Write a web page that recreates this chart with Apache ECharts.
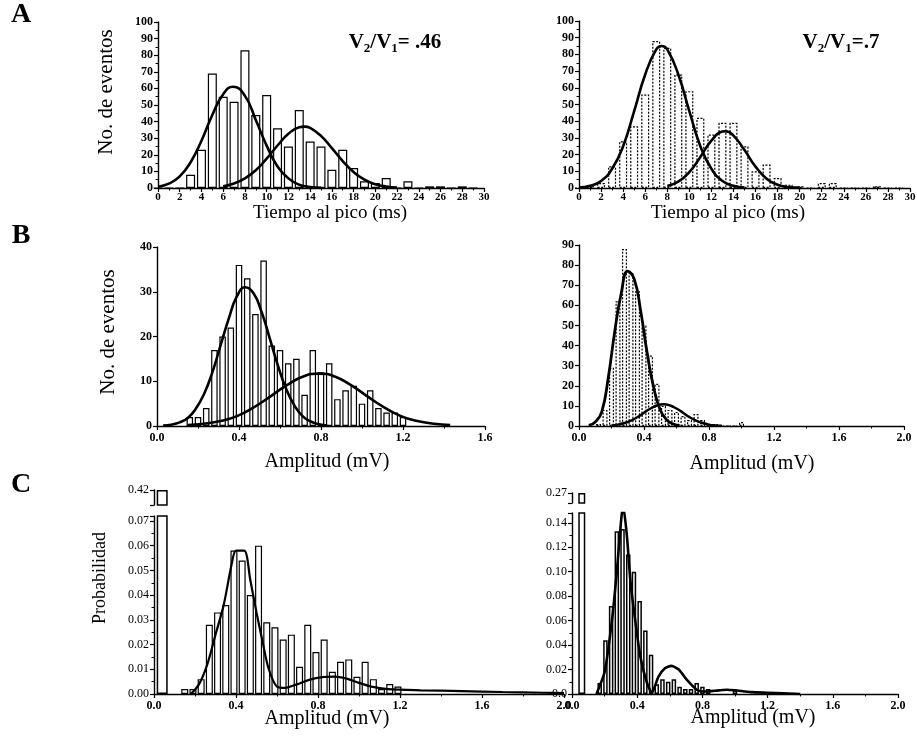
<!DOCTYPE html>
<html>
<head>
<meta charset="utf-8">
<script src="https://cdn.jsdelivr.net/npm/echarts@6/dist/echarts.min.js"></script>
<style>
  html, body { margin: 0; padding: 0; background: #fff; }
  #chart { width: 917px; height: 738px; }
</style>
</head>
<body>
<div id="chart"></div>
<script>
// ---- A: tiempo al pico (ms), bins de 1 ms ----
var timeBins = [0,1,2,3,4,5,6,7,8,9,10,11,12,13,14,15,16,17,18,19,20,21,22,23,24,25,26,27,28,29];
var timeCountsV46 = [0,0,0,8,23,69,55,52,83,44,56,36,25,47,28,25,11,23,12,4,3,6,0,4,0,1,1,0,1,0];
var timeCountsV7 = [0,1,3,13,28,37,56,88,84,68,58,42,32,39,39,25,10,14,6,2,1,0,3,3,0,0,0,1,0,0];

var fitT46aX = [0,1,2,3,4,5,6,6.9,8,9,10,11,12,13,14,15];
var fitT46aY = [0.8,2.6,7,15.5,28.5,44,56.5,61,55.5,41,25.5,13,5.8,2,0.6,0.1];
var fitT46bX = [6,7,8,9,10,11,12,13,13.5,14,15,16,17,18,19,20,21,22];
var fitT46bY = [1.1,2.7,5.8,10.7,17.7,25.6,32.7,36.6,37,36.2,31.4,24,16.2,9.6,5,2.3,0.9,0.3];
var fitT7aX = [0,1,2,3,4,5,6,7,7.5,8,9,10,11,12,13,14,15];
var fitT7aY = [0.3,1.3,4.2,11.5,25,46,68,83,85,83,68,46,25,11.5,4.2,1.3,0.3];
var fitT7bX = [8,9,10,11,12,13,13.3,14,15,16,17,18,19,20];
var fitT7bY = [1.2,3.8,9.5,18.6,28.4,33.8,34,31.4,22.7,12.8,5.6,1.9,0.5,0.1];

// ---- B: amplitud (mV), bins de 0.04 mV ----
var ampBinsV46 = [0.16,0.20,0.24,0.28,0.32,0.36,0.40,0.44,0.48,0.52,0.56,0.60,0.64,0.68,0.72,0.76,0.80,0.84,0.88,0.92,0.96,1.00,1.04,1.08,1.12,1.16,1.20];
var ampCountsV46 = [2,2,4,17,20,22,36,33,25,37,18,17,14,15,7,17,12,14,6,8,9,5,8,4,3,3,2];
var ampBinsV7 = [0.12,0.16,0.20,0.24,0.28,0.32,0.36,0.40,0.44,0.48,0.52,0.56,0.60,0.64,0.68,0.72,0.76,0.80,0.84,0.88,0.92,0.96,1.00];
var ampCountsV7 = [1,8,29,62,88,76,67,50,35,21,10,8,7,5,3,6,3,1,1,0,0,0,2];

var fitA46aX = [0.03,0.07,0.11,0.15,0.19,0.23,0.27,0.31,0.35,0.39,0.43,0.47,0.51,0.55,0.59,0.63,0.67,0.71,0.75,0.79,0.83];
var fitA46aY = [0.1,0.3,0.8,1.8,3.9,7.2,12,18,24,29,31,29.7,25.5,19.6,13.5,8.3,4.6,2.2,1,0.4,0.1];
var fitA46bX = [0.15,0.23,0.31,0.39,0.47,0.55,0.63,0.71,0.79,0.87,0.95,1.03,1.11,1.19,1.27,1.35,1.43];
var fitA46bY = [0.2,0.5,1.1,2.2,4.1,6.5,9,11,11.7,11,9,6.5,4.1,2.2,1.1,0.5,0.2];
var fitA7aX = [0.06,0.10,0.14,0.18,0.22,0.26,0.30,0.34,0.38,0.42,0.46,0.50,0.54,0.58,0.62];
var fitA7aY = [0.3,2,7,24,47,66,77,73,57,36,19,8,3,1,0.2];
var fitA7bX = [0.20,0.24,0.28,0.32,0.36,0.40,0.44,0.48,0.52,0.56,0.60,0.64,0.68,0.72,0.76,0.80,0.84,0.88];
var fitA7bY = [0.3,0.7,1.5,2.7,4.4,6.6,8.7,10.2,10.8,10.2,8.7,6.6,4.4,2.7,1.5,0.7,0.3,0.1];

// ---- C: probabilidad vs amplitud ----
var failBinV46 = [0.04];
var failProbV46 = [0.42];
var probBinsV46 = [0.15,0.19,0.23,0.27,0.31,0.35,0.39,0.43,0.47,0.51,0.55,0.59,0.63,0.67,0.71,0.75,0.79,0.83,0.87,0.91,0.95,0.99,1.03,1.07,1.11,1.15,1.19];
var probV46 = [0.002,0.002,0.006,0.028,0.033,0.036,0.058,0.054,0.040,0.060,0.029,0.027,0.022,0.024,0.011,0.028,0.017,0.022,0.009,0.013,0.014,0.007,0.013,0.006,0.002,0.004,0.003];
var fitP46X = [0.18,0.22,0.26,0.30,0.34,0.38,0.40,0.44,0.47,0.50,0.53,0.56,0.60,0.64,0.70,0.76,0.82,0.88,0.94,1.00,1.06,1.14,1.30,1.50,1.70,1.90,2.00];
var fitP46Y = [0,0.004,0.012,0.024,0.036,0.053,0.058,0.058,0.046,0.033,0.021,0.01,0.003,0.0025,0.004,0.0058,0.0068,0.007,0.0062,0.0045,0.003,0.002,0.0015,0.0012,0.0008,0.0005,0.0004];

var failBinV7 = [0.06];
var failProbV7 = [0.27];
var probBinsV7 = [0.17,0.205,0.24,0.275,0.31,0.345,0.38,0.415,0.45,0.485,0.52,0.555,0.59,0.625,0.66,0.695,0.73,0.765,0.80,0.835,1.00];
var probV7 = [0.009,0.044,0.072,0.133,0.135,0.114,0.10,0.076,0.052,0.032,0.008,0.012,0.01,0.012,0.006,0.004,0.004,0.009,0.006,0.004,0.003];
var fitP7X = [0.15,0.20,0.245,0.275,0.30,0.313,0.337,0.358,0.388,0.42,0.46,0.49,0.53,0.57,0.61,0.655,0.705,0.767,0.81,0.90,0.95,1.0,1.1,1.2,1.4];
var fitP7Y = [0,0.018,0.06,0.1,0.14,0.155,0.129,0.093,0.06,0.03,0.009,0.001,0.014,0.021,0.023,0.02,0.0115,0.0033,0.002,0.003,0.0035,0.003,0.0015,0.001,0];

var serif = "'Liberation Serif', 'DejaVu Serif', serif";

function pairs(xs, ys) {
  return xs.map(function (x, i) { return [x, ys[i]]; });
}
function onStep(v, s) {
  return Math.abs(v / s - Math.round(v / s)) < 1e-6;
}

function valAxis(grid, min, max, interval, opts) {
  opts = opts || {};
  return {
    type: 'value',
    gridIndex: grid,
    min: min,
    max: max,
    interval: interval,
    show: opts.show !== false,
    axisLine: { show: true, onZero: false, lineStyle: { color: '#000', width: 1.4 } },
    axisTick: { show: true, length: 4, lineStyle: { color: '#000', width: 1.2 } },
    minorTick: { show: !!opts.minor, splitNumber: opts.minor || 2, length: 2.5, lineStyle: { color: '#000', width: 1 } },
    splitLine: { show: false },
    minorSplitLine: { show: false },
    axisLabel: {
      show: true,
      color: '#000',
      fontFamily: serif,
      fontSize: opts.fontSize || 12,
      fontWeight: opts.bold === false ? 'normal' : 'bold',
      margin: opts.margin || 5,
      formatter: opts.fmt
    }
  };
}

function bars(xi, yi, xs, ys, width, dashed, bw) {
  return {
    type: 'bar',
    xAxisIndex: xi,
    yAxisIndex: yi,
    barWidth: width,
    data: pairs(xs, ys),
    itemStyle: {
      color: '#fff',
      borderColor: '#000',
      borderWidth: bw || 1.2,
      borderType: dashed ? [2, 1.5] : 'solid'
    },
    z: 2
  };
}

function fit(xi, yi, xs, ys, width, smooth) {
  return {
    type: 'line',
    xAxisIndex: xi,
    yAxisIndex: yi,
    data: pairs(xs, ys),
    showSymbol: false,
    symbol: 'none',
    smooth: smooth,
    lineStyle: { color: '#000', width: width },
    z: 5
  };
}

function label(x, y, text, size, weight, rot) {
  return {
    type: 'text',
    x: x,
    y: y,
    rotation: rot || 0,
    style: {
      text: text,
      fontFamily: serif,
      fontSize: size,
      fontWeight: weight || 'normal',
      fill: '#000',
      align: 'center',
      verticalAlign: 'middle'
    }
  };
}

function ratio(x, y, value) {
  return {
    type: 'text',
    x: x,
    y: y,
    style: {
      text: '{b|V}{s|2}{b|/V}{s|1}{b|=' + value + '}',
      fill: '#000',
      align: 'center',
      verticalAlign: 'middle',
      rich: {
        b: { fontFamily: serif, fontSize: 21, fontWeight: 'bold', lineHeight: 24, verticalAlign: 'middle' },
        s: { fontFamily: serif, fontSize: 13, fontWeight: 'bold', lineHeight: 9, verticalAlign: 'bottom' }
      }
    }
  };
}

var fmt1 = function (v) { return v.toFixed(1); };

var chart = echarts.init(document.getElementById('chart'), null, { renderer: 'canvas' });

var option = {
  backgroundColor: '#fff',
  animation: false,
  grid: [
    { left: 158, top: 22, width: 326, height: 166, outerBoundsMode: 'none' },
    { left: 579, top: 21, width: 331, height: 167, outerBoundsMode: 'none' },
    { left: 157, top: 247, width: 328, height: 179, outerBoundsMode: 'none' },
    { left: 579, top: 245, width: 325, height: 181, outerBoundsMode: 'none' },
    { left: 154, top: 516, width: 410, height: 178, outerBoundsMode: 'none' },
    { left: 572, top: 513, width: 326, height: 181, outerBoundsMode: 'none' },
    // tramos superiores del eje cortado
    { left: 154, top: 490, width: 410, height: 15, outerBoundsMode: 'none' },
    { left: 572, top: 493, width: 326, height: 10, outerBoundsMode: 'none' }
  ],
  xAxis: [
    valAxis(0, 0, 30, 2, { minor: 2, margin: 4, fontSize: 11 }),
    valAxis(1, 0, 30, 2, { minor: 2, margin: 4, fontSize: 11 }),
    valAxis(2, 0, 1.6, 0.4, { minor: 2, margin: 6, fmt: fmt1 }),
    valAxis(3, 0, 2.0, 0.4, { minor: 2, margin: 6, fmt: fmt1 }),
    valAxis(4, 0, 2.0, 0.4, { minor: 2, margin: 6, fmt: fmt1 }),
    valAxis(5, 0, 2.0, 0.4, { minor: 2, margin: 6, fmt: fmt1 }),
    valAxis(6, 0, 2.0, 0.4, { show: false }),
    valAxis(7, 0, 2.0, 0.4, { show: false }),
    valAxis(4, 0, 2.0, 0.4, { show: false }),
    valAxis(5, 0, 2.0, 0.4, { show: false })
  ],
  yAxis: [
    valAxis(0, 0, 100, 10, { minor: 2, fontSize: 12 }),
    valAxis(1, 0, 100, 10, { minor: 2, fontSize: 12 }),
    valAxis(2, 0, 40, 10, {}),
    valAxis(3, 0, 90, 10, {}),
    valAxis(4, 0, 0.072, 0.01, { minor: 2, bold: false,
      fmt: function (v) { return onStep(v, 0.01) ? v.toFixed(2) : ''; } }),
    valAxis(5, 0, 0.148, 0.02, { minor: 2, bold: false,
      fmt: function (v) { return v === 0 ? '0.0' : (onStep(v, 0.02) ? v.toFixed(2) : ''); } }),
    valAxis(6, 0.41, 0.42, 0.01, { bold: false,
      fmt: function (v) { return v > 0.4199 ? '0.42' : ''; } }),
    valAxis(7, 0.26, 0.27, 0.01, { bold: false,
      fmt: function (v) { return v > 0.2699 ? '0.27' : ''; } })
  ],
  series: [
    bars(0, 0, timeBins, timeCountsV46, 9, false),
    fit(0, 0, fitT46aX, fitT46aY, 2.6, true),
    fit(0, 0, fitT46bX, fitT46bY, 2.6, true),

    bars(1, 1, timeBins, timeCountsV7, 8, true),
    fit(1, 1, fitT7aX, fitT7aY, 2.6, true),
    fit(1, 1, fitT7bX, fitT7bY, 2.6, true),

    bars(2, 2, ampBinsV46, ampCountsV46, 6.5, false),
    fit(2, 2, fitA46aX, fitA46aY, 2.6, true),
    fit(2, 2, fitA46bX, fitA46bY, 2.6, true),

    bars(3, 3, ampBinsV7, ampCountsV7, 5, true),
    fit(3, 3, fitA7aX, fitA7aY, 2.8, true),
    fit(3, 3, fitA7bX, fitA7bY, 2.4, true),

    bars(4, 4, probBinsV46, probV46, 7, false),
    bars(8, 4, failBinV46, failProbV46, 11, false, 1.5),
    bars(6, 6, failBinV46, failProbV46, 11, false, 1.5),
    fit(4, 4, fitP46X, fitP46Y, 2.2, 0.3),

    bars(5, 5, probBinsV7, probV7, 4.5, false, 1.5),
    bars(9, 5, failBinV7, failProbV7, 7, false, 1.5),
    bars(7, 7, failBinV7, failProbV7, 7, false, 1.5),
    fit(5, 5, fitP7X, fitP7Y, 2.6, 0.2)
  ],
  graphic: [
    label(21, 15, 'A', 28, 'bold'),
    label(21, 236, 'B', 28, 'bold'),
    label(21, 485, 'C', 28, 'bold'),
    ratio(395, 43, ' .46'),
    ratio(841, 43, '.7'),
    label(330, 213, 'Tiempo al pico (ms)', 19),
    label(728, 213, 'Tiempo al pico (ms)', 19),
    label(327, 462, 'Amplitud (mV)', 20),
    label(752, 464, 'Amplitud (mV)', 20),
    label(327, 719, 'Amplitud (mV)', 20),
    label(753, 718, 'Amplitud (mV)', 20),
    label(106, 92, 'No. de eventos', 21, 'normal', Math.PI / 2),
    label(108, 332, 'No. de eventos', 21, 'normal', Math.PI / 2),
    label(100, 578, 'Probabilidad', 18, 'normal', Math.PI / 2)
  ]
};

chart.setOption(option);
</script>
</body>
</html>
